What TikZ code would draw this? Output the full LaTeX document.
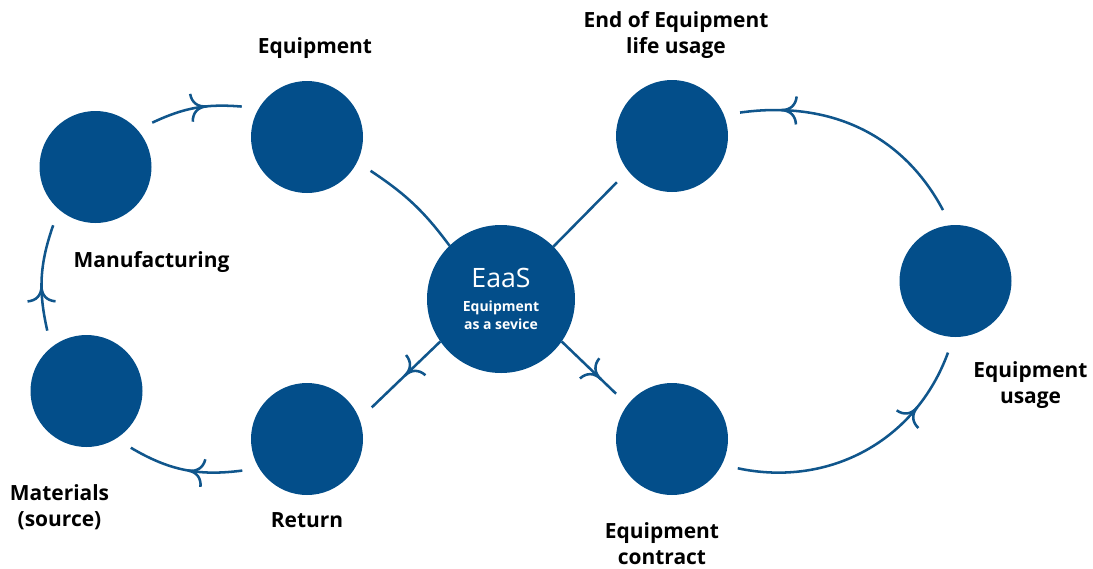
\documentclass[tikz,border=0pt]{standalone}
\usepackage{fontspec}
\setmainfont{Open Sans}
\usetikzlibrary{decorations.markings}

\definecolor{discblue}{RGB}{3,78,138}
\definecolor{flowblue}{RGB}{16,86,140}

\tikzset{
  stage/.style={circle, fill=discblue, minimum size=84pt, inner sep=0pt, outer sep=12pt},
  hub/.style={circle, fill=discblue, minimum size=111pt, inner sep=0pt, outer sep=0pt,
    text=white, align=center, font=\fontsize{10.5}{13.5}\selectfont\bfseries},
  caption/.style={font=\fontsize{15.7}{19.5}\selectfont\bfseries, align=center, inner sep=0pt},
  flow/.style={draw=flowblue, line width=1.9pt},
  barb/.style={draw=flowblue, line width=1.9pt},
  % open, curved arrow head placed part way along a connector
  barbat/.style={postaction={decorate}, decoration={markings, mark=at position #1 with {
      \draw[barb] (0pt,0pt) .. controls (-7pt,0pt) and (-11pt,4pt) .. (-11.5pt,10.5pt)
                  (0pt,0pt) .. controls (-7pt,0pt) and (-11pt,-4pt) .. (-11.5pt,-10.5pt);}}},
}

\begin{document}
\begin{tikzpicture}[x=0.75pt, y=-0.75pt]
\useasboundingbox (0,0) rectangle (1093,568);

% stages of the cycle
\node[stage] (manu) at (95.5,167) {};
\node[stage] (equip) at (307,137) {};
\node[stage] (mat) at (86.5,391) {};
\node[stage] (ret) at (307,439) {};
\node[stage] (eol) at (672,136) {};
\node[stage] (usage) at (955.5,281) {};
\node[stage] (contract) at (672,439) {};
\node[hub] (eaas) at (501,299)
  {{\fontsize{20}{24}\selectfont\mdseries EaaS}\\[5pt]Equipment\\as a sevice};

% connectors
\draw[flow, barbat=0.62] (manu.38.5) to[bend left=15] (equip.155.6);
\draw[flow, barbat=0.42] (mat.123.6) to[bend left=16] (manu.234.2);
\draw[flow, barbat=0.47] (ret.206.6) to[bend left=19] (mat.308);
\draw[flow] (equip.332.7) to[bend left=10] (eaas.134.5);
\draw[flow, barbat=0.52] (eaas.215.8) -- (ret.26.2);
\draw[flow, barbat=0.72] (eaas.325.3) -- (contract.141.6);
\draw[flow] (eaas.45.5) -- (eol.220.5);
\draw[flow, barbat=0.76] (contract.336) to[out=-12, in=250] (usage.264.2);
\draw[flow, barbat=0.83] (usage.100.8) to[out=118, in=8] (eol.19.4);

% captions (two-line captions are placed by the baseline of their last line)
\node[caption, anchor=base] (lequip) at (315,53) {Equipment};
\node[caption, anchor=base] (leol) at (676,53) {End of Equipment\\life usage};
\node[caption, anchor=base] (lmanu) at (151.5,267) {Manufacturing};
\node[caption, anchor=base] (lmat) at (59.5,526) {Materials\\(source)};
\node[caption, anchor=base] (lret) at (307,527) {Return};
\node[caption, anchor=base] (lcon) at (662,564) {Equipment\\contract};
\node[caption, anchor=base] (luse) at (1030.5,403) {Equipment\\usage};
\end{tikzpicture}
\end{document}
